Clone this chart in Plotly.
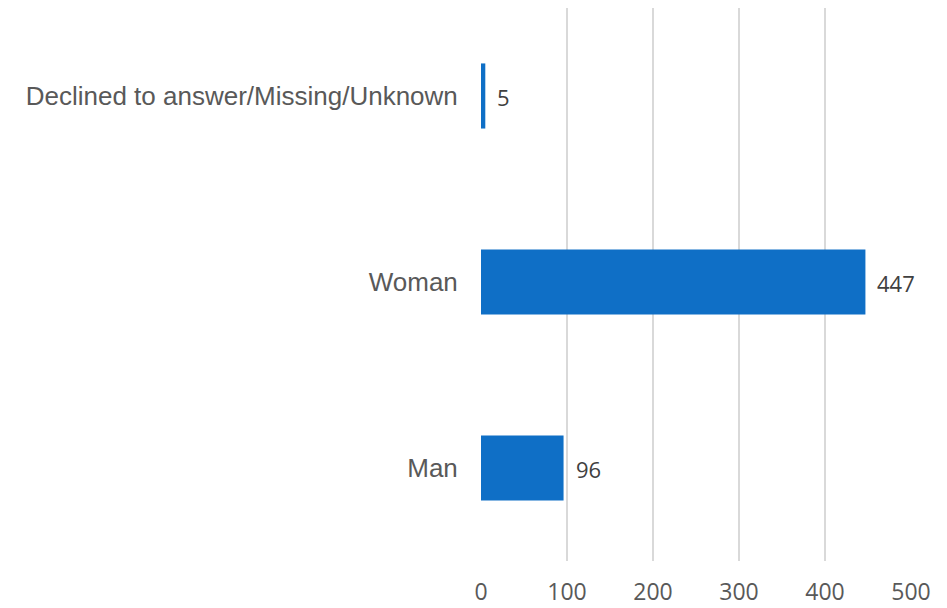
import plotly.graph_objects as go

categories = ["Man", "Woman", "Declined to answer/Missing/Unknown"]
values = [96, 447, 5]
x_ticks = [0, 100, 200, 300, 400, 500]

bar_color = "#0F6FC6"
text_color = "#595959"

fig = go.Figure()
fig.add_trace(go.Bar(
    x=values, y=categories, orientation="h",
    marker=dict(color=bar_color, line=dict(width=0)),
    width=0.35,
    hoverinfo="skip",
))

for v, c in zip(values, categories):
    fig.add_annotation(
        x=v, y=c, text=str(v), showarrow=False,
        xanchor="left", xshift=10, yshift=-1,
        font=dict(family="Open Sans", size=22, color="#404040"),
    )

fig.update_layout(
    width=939, height=600,
    margin=dict(l=473, r=36, t=0, b=47, autoexpand=False),
    plot_bgcolor="white", paper_bgcolor="white",
    showlegend=False,
    xaxis=dict(
        range=[0, 500], tickvals=x_ticks, ticktext=[str(t) for t in x_ticks],
        showgrid=True, gridcolor="#D9D9D9", gridwidth=1.5,
        zeroline=False, showline=False,
        tickfont=dict(family="Open Sans", size=23, color=text_color),
        ticks="outside", ticklen=10, tickcolor="rgba(0,0,0,0)",
        automargin=False,
    ),
    yaxis=dict(
        categoryorder="array", categoryarray=categories,
        range=[-0.5, 2.473],
        showgrid=False, zeroline=False, showline=False,
        tickfont=dict(family="Liberation Sans", size=26, color=text_color),
        ticks="outside", ticklen=17, tickcolor="rgba(0,0,0,0)",
        automargin=False,
    ),
)

fig.write_html("out.html")
